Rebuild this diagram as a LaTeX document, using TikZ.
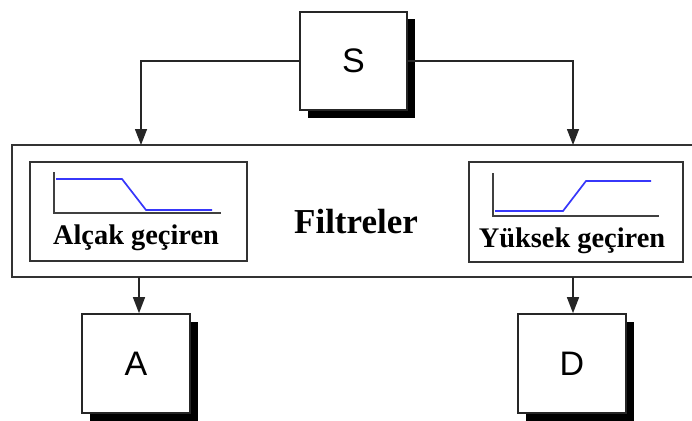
\documentclass[tikz,border=0pt]{standalone}
\usepackage{fontspec}
\setmainfont{Liberation Serif}
\newfontfamily\labelsans{Liberation Sans}
\usetikzlibrary{arrows.meta,shadows}
\definecolor{curveblue}{RGB}{55,55,250}
\begin{document}
\begin{tikzpicture}[x=1pt,y=-1pt,
  line width=1.6pt,
  blockbox/.style={draw=black!85, fill=white, minimum width=107pt, minimum height=98pt,
    inner sep=0pt, font=\labelsans\fontsize{34}{36}\selectfont,
    general shadow={fill=black, shadow xshift=7.5pt, shadow yshift=-7.5pt}},
  framebox/.style={draw=black!80, line width=1.6pt},
  flow/.style={draw=black!85, line width=1.4pt, -{Triangle[length=16pt,width=12pt]}},
  axis/.style={draw=black!75, line width=1.6pt},
  response/.style={draw=curveblue, line width=1.7pt},
  caption/.style={font=\bfseries\fontsize{28.4}{30}\selectfont, inner sep=0pt}]
\useasboundingbox (0,0) rectangle (692,420);

% filter bank frame
\draw[framebox] (12,145) rectangle (700,277);
\node[caption, font=\bfseries\fontsize{35}{38}\selectfont] (filt) at (356,222) {Filtreler};

% low-pass panel
\draw[framebox] (30,162) rectangle (247,261);
\draw[axis] (54,172) -- (54,213) -- (221,213);
\draw[response] (56,179) -- (122,179) -- (146,210) -- (212,210);
\node[caption] (lp) at (136,238) {Alçak geçiren};

% high-pass panel
\draw[framebox] (469,162) rectangle (683,262);
\draw[axis] (493,173) -- (493,216) -- (659,216);
\draw[response] (495,211) -- (563,211) -- (586,181) -- (651,181);
\node[caption] (hp) at (572,241) {Yüksek geçiren};

% source and outputs
\node[blockbox] (S) at (353.5,61) {S};
\node[blockbox, minimum width=108pt, minimum height=99pt] (A) at (136,363.5) {A};
\node[blockbox, minimum width=108pt, minimum height=99pt] (D) at (572,363.5) {D};

% connection points on the frame
\coordinate (inL) at (141,145);
\coordinate (inR) at (573,145);
\coordinate (outL) at (139,277);
\coordinate (outR) at (573,277);

\draw[flow] (S.west) -| (inL);
\draw[flow] (S.east) -| (inR);
\draw[flow] (outL) -- (outL |- A.north);
\draw[flow] (outR) -- (outR |- D.north);
\end{tikzpicture}
\end{document}
